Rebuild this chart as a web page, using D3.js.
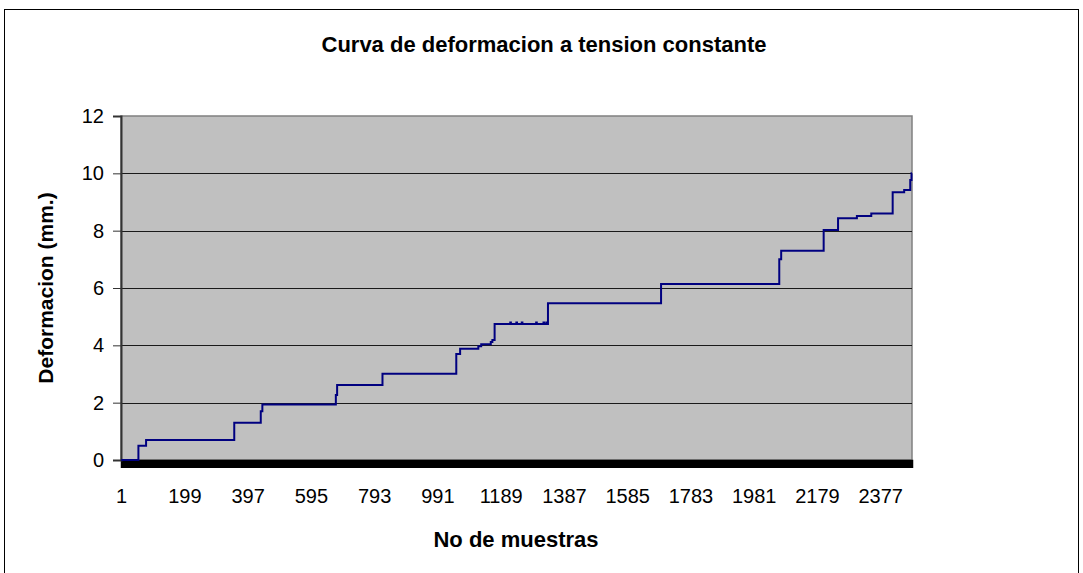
<!DOCTYPE html>
<html>
<head>
<meta charset="utf-8">
<script src="https://cdn.jsdelivr.net/npm/d3@7"></script>
<style>
  html, body { margin: 0; padding: 0; background: #fff; }
  svg { display: block; font-family: "Liberation Sans", Arial, sans-serif; }
</style>
</head>
<body>
<svg id="chart" width="1083" height="573"></svg>
<script>
// Number of samples recorded
const sampleCount = 2476;

// Sample number at which each new deformation level starts
const stepSample = [1, 55, 79, 355, 438, 443, 673, 677, 819, 1050, 1062, 1119, 1128, 1158, 1163, 1170,
  1219, 1221, 1238, 1240, 1255, 1257, 1300, 1302, 1323, 1325, 1332, 1334,
  1337, 1691, 2061, 2067, 2200, 2245, 2304, 2349, 2416, 2452, 2471, 2475];

// Deformation (mm.) held from that sample on
const stepValue = [0, 0.50, 0.70, 1.30, 1.70, 1.94, 2.27, 2.62, 3.01, 3.70, 3.88, 3.97, 4.04, 4.12, 4.19, 4.74,
  4.80, 4.74, 4.80, 4.74, 4.80, 4.74, 4.80, 4.74, 4.80, 4.74, 4.80, 4.74,
  5.47, 6.14, 7.00, 7.30, 8.02, 8.43, 8.51, 8.60, 9.34, 9.42, 9.77, 10.0];

// Axis labels
const xTickLabels = [1, 199, 397, 595, 793, 991, 1189, 1387, 1585, 1783, 1981, 2179, 2377];
const yTickValues = [0, 2, 4, 6, 8, 10, 12];

const titleText = "Curva de deformacion a tension constante";
const xTitle = "No de muestras";
const yTitle = "Deformacion (mm.)";

const svg = d3.select("#chart");
const plot = { left: 121, right: 912, top: 116, bottom: 460 };

const x = d3.scaleLinear().domain([0.5, sampleCount + 0.5]).range([plot.left, plot.right]);
const y = d3.scaleLinear().domain([0, 12]).range([plot.bottom, plot.top]);

// Outer chart frame
svg.append("rect")
  .attr("x", 4.5).attr("y", 9.5).attr("width", 1074).attr("height", 580)
  .attr("fill", "#fff").attr("stroke", "#000").attr("stroke-width", 1);

// Plot background
svg.append("rect")
  .attr("x", plot.left).attr("y", plot.top)
  .attr("width", plot.right - plot.left).attr("height", plot.bottom - plot.top)
  .attr("fill", "#c0c0c0").attr("stroke", "#808080").attr("stroke-width", 1.5);

// Horizontal gridlines
svg.append("g").selectAll("line")
  .data(yTickValues.filter(v => v > 0 && v < 12))
  .join("line")
  .attr("x1", plot.left).attr("x2", plot.right)
  .attr("y1", d => Math.round(y(d)) + 0.5).attr("y2", d => Math.round(y(d)) + 0.5)
  .attr("stroke", "#1a1a1a").attr("stroke-width", 1);

// Category tick marks, one per sample
const xTicks = d3.axisBottom(x)
  .tickValues(d3.range(1, sampleCount + 1))
  .tickSize(8)
  .tickFormat("");
const gxTicks = svg.append("g")
  .attr("transform", `translate(0,${plot.bottom})`)
  .call(xTicks);
gxTicks.selectAll("line").attr("stroke", "#000").attr("shape-rendering", "crispEdges");
gxTicks.select(".domain").attr("stroke", "#000").attr("stroke-width", 1.5);

// Category labels
const xLabels = d3.axisBottom(x)
  .tickValues(xTickLabels)
  .tickSize(0)
  .tickPadding(29)
  .tickFormat(d3.format("d"));
const gxLabels = svg.append("g")
  .attr("transform", `translate(0,${plot.bottom})`)
  .call(xLabels);
gxLabels.select(".domain").remove();
gxLabels.selectAll("text")
  .attr("font-family", "'Liberation Sans', Arial, sans-serif")
  .attr("font-size", 20).attr("fill", "#000");

// Value axis
const yAxis = d3.axisLeft(y)
  .tickValues(yTickValues)
  .tickSize(8)
  .tickPadding(9)
  .tickFormat(d3.format("d"));
const gy = svg.append("g")
  .attr("transform", `translate(${plot.left},0)`)
  .call(yAxis);
gy.select(".domain").attr("stroke", "#333").attr("stroke-width", 2);
gy.selectAll("line").attr("stroke", "#333");
gy.selectAll("text")
  .attr("font-family", "'Liberation Sans', Arial, sans-serif")
  .attr("font-size", 20).attr("fill", "#000");

// Deformation step curve, drawn over the axes
const points = stepSample.map((s, i) => ({ s, v: stepValue[i] }));
points.push({ s: sampleCount, v: stepValue[stepValue.length - 1] });

const line = d3.line()
  .x(d => x(d.s))
  .y(d => y(d.v))
  .curve(d3.curveStepAfter);

svg.append("path")
  .datum(points)
  .attr("d", line)
  .attr("fill", "none")
  .attr("stroke", "#000080")
  .attr("stroke-width", 2)
  .attr("stroke-linejoin", "miter");

// Titles
svg.append("text")
  .attr("x", 544).attr("y", 52)
  .attr("text-anchor", "middle")
  .attr("font-size", 22).attr("font-weight", "bold")
  .text(titleText);

svg.append("text")
  .attr("x", 516).attr("y", 547)
  .attr("text-anchor", "middle")
  .attr("font-size", 22).attr("font-weight", "bold")
  .text(xTitle);

svg.append("text")
  .attr("transform", "translate(53,288) rotate(-90)")
  .attr("text-anchor", "middle")
  .attr("font-size", 21).attr("font-weight", "bold")
  .text(yTitle);
</script>
</body>
</html>
